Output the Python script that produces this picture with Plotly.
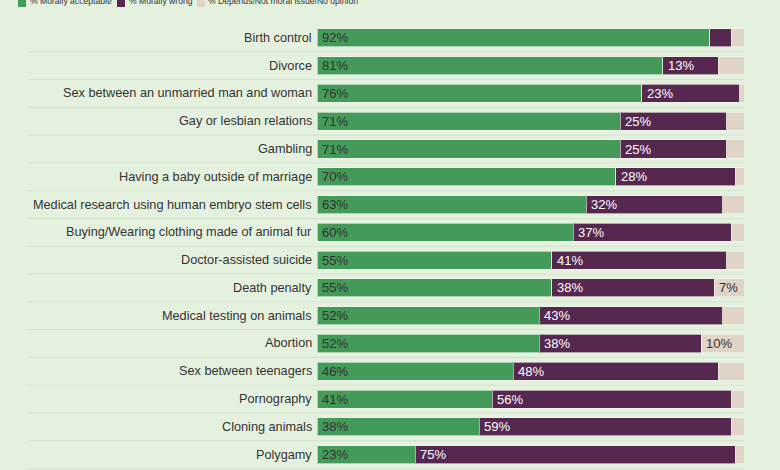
import plotly.graph_objects as go

categories = [
    "Birth control", "Divorce", "Sex between an unmarried man and woman",
    "Gay or lesbian relations", "Gambling", "Having a baby outside of marriage",
    "Medical research using human embryo stem cells",
    "Buying/Wearing clothing made of animal fur", "Doctor-assisted suicide",
    "Death penalty", "Medical testing on animals", "Abortion",
    "Sex between teenagers", "Pornography", "Cloning animals", "Polygamy",
]
acceptable = [92, 81, 76, 71, 71, 70, 63, 60, 55, 55, 52, 52, 46, 41, 38, 23]
wrong = [5, 13, 23, 25, 25, 28, 32, 37, 41, 38, 43, 38, 48, 56, 59, 75]
depends = [3, 6, 1, 4, 4, 2, 5, 3, 4, 7, 5, 10, 6, 3, 3, 2]

series_names = ["% Morally acceptable", "% Morally wrong", "% Depends/Not moral issue/No opinion"]
colors = ["#449a58", "#57284f", "#e0d4c6"]
text_colors = ["#333333", "#ffffff", "#333333"]

BG = "#e5f1df"
FONT = "Liberation Sans, Arial, sans-serif"

L, R, T, B, W, H = 317, 36, 24, 1, 780, 470
PW, PH = W - L - R, H - T - B


def px_x(px):
    return (px - L) / PW


def px_y(py):
    return 1 - (py - T) / PH


fig = go.Figure()
series = [acceptable, wrong, depends]
for name, vals, col in zip(series_names, series, colors):
    fig.add_trace(go.Bar(
        y=categories, x=vals, name=name, orientation="h",
        marker=dict(color=col, line=dict(color="rgba(240,248,236,0.6)", width=1)),
        hoverinfo="skip", showlegend=False,
    ))

# value labels inside segments
for i, cat in enumerate(categories):
    start = 0
    for vals, tcol in zip(series, text_colors):
        v = vals[i]
        if v >= 7:
            fig.add_annotation(x=start, y=cat, xref="x", yref="y", text=f"{v}%",
                               showarrow=False, xanchor="left", yanchor="middle", xshift=3,
                               font=dict(size=13, color=tcol, family=FONT))
        start += v

# category labels
for cat in categories:
    fig.add_annotation(x=0, y=cat, xref="paper", yref="y", text=cat, showarrow=False,
                       xanchor="right", yanchor="middle", xshift=-3,
                       font=dict(size=12.7, color="#333333", family=FONT))

# row separators
for i in range(len(categories)):
    fig.add_shape(type="line", xref="paper", yref="y",
                  x0=px_x(28), x1=1.0, y0=i + 0.5, y1=i + 0.5,
                  line=dict(color="#d3e2cc", width=1), layer="below")

# manual legend (cut off at the top as in the reference)
legend_items = [(18, 28), (117, 127), (197, 206)]
for (sx, tx), name, col in zip(legend_items, series_names, colors):
    fig.add_shape(type="rect", xref="paper", yref="paper",
                  x0=px_x(sx), x1=px_x(sx + 8), y0=px_y(7), y1=px_y(-2),
                  fillcolor=col, line=dict(width=0))
    fig.add_annotation(x=px_x(tx), y=px_y(1.5), xref="paper", yref="paper", text=name,
                       showarrow=False, xanchor="left", yanchor="middle",
                       font=dict(size=8.6, color="#333333", family=FONT))

fig.update_layout(
    width=W, height=H,
    barmode="stack", bargap=0.35,
    paper_bgcolor=BG, plot_bgcolor=BG,
    margin=dict(l=L, r=R, t=T, b=B, autoexpand=False),
    font=dict(family=FONT, size=13, color="#333333"),
    showlegend=False,
    xaxis=dict(range=[0, 100], visible=False, fixedrange=True),
    yaxis=dict(autorange="reversed", showgrid=False, ticks="", showline=False,
               showticklabels=False),
)

fig.write_html("out.html")
